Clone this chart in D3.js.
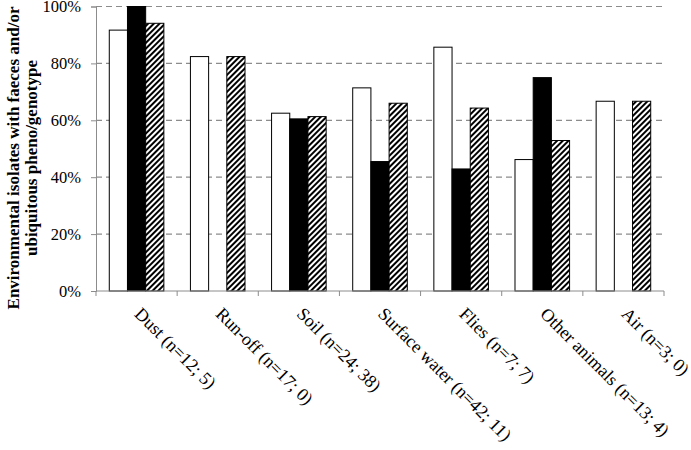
<!DOCTYPE html>
<html>
<head>
<meta charset="utf-8">
<script src="https://cdn.jsdelivr.net/npm/d3@7"></script>
<style>
  body { margin: 0; background: #fff; }
  svg text { font-family: "Liberation Serif", "Times New Roman", serif; }
</style>
</head>
<body>
<svg id="chart" width="691" height="450"></svg>
<script>
const categories = ['Dust (n=12; 5)', 'Run-off (n=17; 0)', 'Soil (n=24; 38)', 'Surface water (n=42; 11)',
  'Flies (n=7; 7)', 'Other animals (n=13; 4)', 'Air (n=3; 0)'];
const seriesA = [0.917, 0.824, 0.625, 0.714, 0.857, 0.462, 0.667];
const seriesB = [1.0, 0, 0.605, 0.455, 0.429, 0.75, 0];
const seriesC = [0.941, 0.824, 0.613, 0.660, 0.643, 0.529, 0.667];
const yTicks = [0, 0.2, 0.4, 0.6, 0.8, 1];

const svg = d3.select('#chart');
const margin = { left: 96, right: 27, top: 6.5, bottom: 159 };
const width = 691 - margin.left - margin.right;
const height = 450 - margin.top - margin.bottom;

// hatch pattern for the third series
const defs = svg.append('defs');
defs.append('pattern')
  .attr('id', 'hatch')
  .attr('patternUnits', 'userSpaceOnUse')
  .attr('width', 4).attr('height', 4)
  .attr('patternTransform', 'rotate(45)')
  .call(p => {
    p.append('rect').attr('width', 4).attr('height', 4).attr('fill', '#fff');
    p.append('rect').attr('width', 2).attr('height', 4).attr('fill', '#000');
  });

const g = svg.append('g').attr('transform', `translate(${margin.left},${margin.top})`);

const x = d3.scaleBand().domain(categories).range([0, width]).paddingInner(0).paddingOuter(0);
const x1 = d3.scaleBand().domain(['a', 'b', 'c']).range([0, x.bandwidth()]).paddingOuter(0.73).paddingInner(0);
const y = d3.scaleLinear().domain([0, 1]).range([height, 0]);

// gridlines
g.append('g')
  .selectAll('line')
  .data(yTicks.filter(d => d > 0))
  .enter().append('line')
  .attr('x1', 0).attr('x2', width)
  .attr('y1', d => y(d)).attr('y2', d => y(d))
  .attr('stroke', '#8c8c8c')
  .attr('stroke-width', 1.2)
  .attr('stroke-dasharray', '6,4');

const series = [
  { key: 'a', values: seriesA, fill: '#fff' },
  { key: 'b', values: seriesB, fill: '#000' },
  { key: 'c', values: seriesC, fill: 'url(#hatch)' }
];

series.forEach(s => {
  g.append('g')
    .selectAll('rect')
    .data(categories.map((c, i) => ({ c, v: s.values[i] })).filter(d => d.v > 0))
    .enter().append('rect')
    .attr('x', d => x(d.c) + x1(s.key))
    .attr('y', d => y(d.v))
    .attr('width', x1.bandwidth())
    .attr('height', d => height - y(d.v))
    .attr('fill', s.fill)
    .attr('stroke', '#000')
    .attr('stroke-width', 1);
});

// y axis
const yAxis = g.append('g')
  .call(d3.axisLeft(y).tickValues(yTicks).tickFormat(d3.format('.0%')).tickSize(5).tickPadding(10));
yAxis.select('.domain').attr('stroke', '#8c8c8c');
yAxis.selectAll('.tick line').attr('stroke', '#8c8c8c');
yAxis.selectAll('text').attr('font-size', 16.5).attr('fill', '#000')
  .style('font-family', '"Liberation Serif", serif');

// x axis with ticks at category boundaries
const xAxis = g.append('g').attr('transform', `translate(0,${height})`);
xAxis.append('line').attr('x1', 0).attr('x2', width).attr('stroke', '#8c8c8c');
xAxis.selectAll('line.tk')
  .data(d3.range(categories.length + 1))
  .enter().append('line')
  .attr('class', 'tk')
  .attr('x1', i => i * x.step()).attr('x2', i => i * x.step())
  .attr('y1', 0).attr('y2', 5)
  .attr('stroke', '#8c8c8c');

xAxis.selectAll('text')
  .data(categories)
  .enter().append('text')
  .attr('transform', d => `translate(${x(d) + x.bandwidth() / 2 - 3},${24}) rotate(45)`)
  .attr('font-size', 18)
  .attr('text-anchor', 'start')
  .attr('fill', '#000')
  .text(d => d);

// y axis title
const title = svg.append('text')
  .attr('transform', `translate(19,158) rotate(-90)`)
  .attr('text-anchor', 'middle')
  .attr('font-size', 17)
  .attr('font-weight', 'bold')
  .attr('fill', '#000');
title.append('tspan').attr('x', 0).attr('dy', 0).text('Environmental isolates with faeces and/or');
title.append('tspan').attr('x', 0).attr('dy', 17.5).text('ubiquitous pheno/genotype');
</script>
</body>
</html>
